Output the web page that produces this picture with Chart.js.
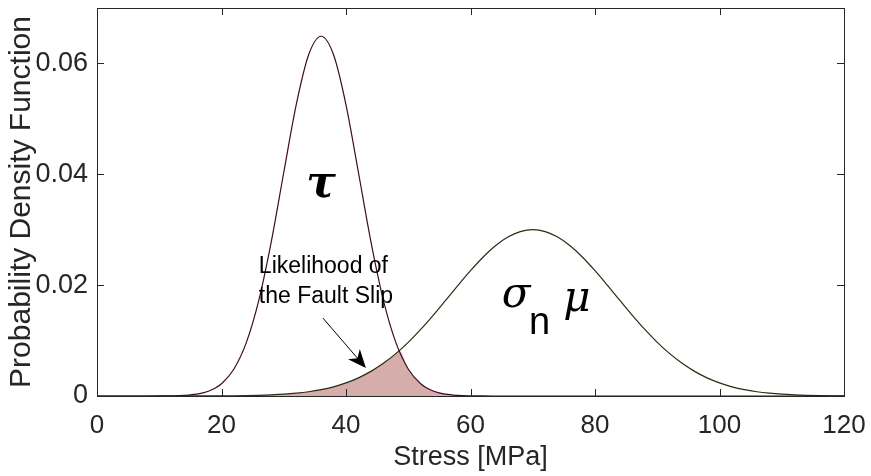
<!DOCTYPE html>
<html>
<head>
<meta charset="utf-8">
<script src="https://cdn.jsdelivr.net/npm/chart.js@4.4.1/dist/chart.umd.min.js"></script>
<style>
  html, body { margin: 0; padding: 0; background: #fff; }
  canvas { display: block; }
</style>
</head>
<body>
<canvas id="chartPdf" width="871" height="476"></canvas>
<script>
// stress axis samples [MPa]
var stress = [0, 2, 4, 6, 8, 10, 12, 14, 16, 18, 20, 22, 24, 26, 28, 30, 32, 34, 36, 38,
  40, 42, 44, 46, 48, 50, 52, 54, 56, 58, 60, 62, 64, 66, 68, 70, 72, 74, 76, 78,
  80, 82, 84, 86, 88, 90, 92, 94, 96, 98, 100, 102, 104, 106, 108, 110, 112, 114, 116, 118, 120];

// shear stress tau
var tauPdf = [0, 0, 0, 0, 0.000002, 0.000009, 0.000032, 0.000108, 0.000328, 0.000896,
  0.0022, 0.00487, 0.00967, 0.0173, 0.02785, 0.04032, 0.05253, 0.06156, 0.0649, 0.06156,
  0.05253, 0.04032, 0.02785, 0.0173, 0.00967, 0.00487, 0.0022, 0.000896, 0.000328, 0.000108,
  0.000032, 0.000009, 0.000002, 0, 0, 0, 0, 0, 0, 0,
  0, 0, 0, 0, 0, 0, 0, 0, 0, 0,
  0, 0, 0, 0, 0, 0, 0, 0, 0, 0, 0];

// frictional strength sigma_n * mu
var strengthPdf = [0, 0, 0, 0, 0, 0.000001, 0.000002, 0.000004, 0.000008, 0.000014,
  0.000026, 0.000045, 0.000076, 0.00013, 0.00021, 0.00033, 0.00051, 0.00077, 0.00114, 0.00166,
  0.00236, 0.00327, 0.00444, 0.00589, 0.00764, 0.00968, 0.01201, 0.01455, 0.01724, 0.01997,
  0.02261, 0.02504, 0.0271, 0.02867, 0.02966, 0.03, 0.02966, 0.02867, 0.0271, 0.02504,
  0.02261, 0.01997, 0.01724, 0.01455, 0.01201, 0.00968, 0.00764, 0.00589, 0.00444, 0.00327,
  0.00236, 0.00166, 0.00114, 0.00077, 0.00051, 0.00033, 0.00021, 0.00013, 0.000076, 0.000045, 0.000026];

// overlap region (likelihood of slip)
var overlapStress = [12, 14, 16, 18, 20, 22, 24, 26, 28, 30, 32, 34, 36, 38, 40, 42, 44, 46, 48,
  48.6, 50, 52, 54, 56, 58, 60, 62, 64];
var overlapPdf = [0.000002, 0.000004, 0.000008, 0.000014, 0.000026, 0.000045, 0.000076, 0.00013,
  0.00021, 0.00033, 0.00051, 0.00077, 0.00114, 0.00166, 0.00236, 0.00327, 0.00444, 0.00589, 0.00764,
  0.0081, 0.00487, 0.0022, 0.000896, 0.000328, 0.000108, 0.000032, 0.000009, 0.000002];

var xTicks = [0, 20, 40, 60, 80, 100, 120];
var yTicks = [0, 0.02, 0.04, 0.06];

function toPoints(xs, ys) {
  return xs.map(function(x, i) { return { x: x, y: ys[i] }; });
}

var FONT = "'Liberation Sans', Arial, sans-serif";
var AXIS_COLOR = '#262626';

// box around the plot with inward ticks, plus the text annotations
var decorations = {
  id: 'decorations',
  afterDatasetsDraw: function(chart) {
    var ctx = chart.ctx;
    var a = chart.chartArea;
    var xs = chart.scales.x, ys = chart.scales.y;
    var px = function(v) { return xs.getPixelForValue(v); };
    var py = function(v) { return ys.getPixelForValue(v); };

    ctx.save();
    ctx.strokeStyle = AXIS_COLOR;
    ctx.lineWidth = 1;
    ctx.strokeRect(Math.round(a.left) + 0.5, Math.round(a.top) + 0.5,
      Math.round(a.right - a.left), Math.round(a.bottom - a.top));
    ctx.beginPath();
    xTicks.forEach(function(t) {
      var x = Math.round(px(t)) + 0.5;
      ctx.moveTo(x, a.bottom); ctx.lineTo(x, a.bottom - 7);
      ctx.moveTo(x, a.top); ctx.lineTo(x, a.top + 7);
    });
    yTicks.forEach(function(t) {
      var y = Math.round(py(t)) + 0.5;
      ctx.moveTo(a.left, y); ctx.lineTo(a.left + 7, y);
      ctx.moveTo(a.right, y); ctx.lineTo(a.right - 7, y);
    });
    ctx.stroke();

    ctx.fillStyle = '#000';
    ctx.textBaseline = 'alphabetic';
    ctx.textAlign = 'left';

    ctx.font = "italic bold 44px 'DejaVu Serif', serif";
    ctx.fillText('\u03C4', px(33.6), py(0.0359));
    ctx.font = "italic 42px 'DejaVu Serif', serif";
    ctx.fillText('\u03C3', px(65.0), py(0.016));
    ctx.fillText('\u03BC', px(74.9), py(0.0153));
    ctx.font = '38px ' + FONT;
    ctx.fillText('n', px(69.4), py(0.0112));

    ctx.font = '23px ' + FONT;
    ctx.fillText('Likelihood of', px(26.0), py(0.02216));
    ctx.fillText('the Fault Slip', px(26.0), py(0.01676));

    // arrow
    var x0 = px(36.3), y0 = py(0.01405), x1 = px(43.2), y1 = py(0.00505);
    var ang = Math.atan2(y1 - y0, x1 - x0);
    ctx.strokeStyle = '#000';
    ctx.lineWidth = 1;
    ctx.beginPath();
    ctx.moveTo(x0, y0);
    ctx.lineTo(x1 - 12 * Math.cos(ang), y1 - 12 * Math.sin(ang));
    ctx.stroke();
    ctx.beginPath();
    ctx.moveTo(x1, y1);
    ctx.lineTo(x1 - 20 * Math.cos(ang - 0.4), y1 - 20 * Math.sin(ang - 0.4));
    ctx.lineTo(x1 - 13 * Math.cos(ang), y1 - 13 * Math.sin(ang));
    ctx.lineTo(x1 - 20 * Math.cos(ang + 0.4), y1 - 20 * Math.sin(ang + 0.4));
    ctx.closePath();
    ctx.fill();
    ctx.restore();
  }
};

document.addEventListener('DOMContentLoaded', function() {
  var ctx = document.getElementById('chartPdf').getContext('2d');
  new Chart(ctx, {
    type: 'line',
    data: {
      datasets: [{
        label: 'tau',
        data: toPoints(stress, tauPdf),
        borderColor: '#3d0c26',
        borderWidth: 1.2,
        pointRadius: 0,
        fill: false,
        cubicInterpolationMode: 'monotone',
        order: 1
      }, {
        label: 'sigma_n mu',
        data: toPoints(stress, strengthPdf),
        borderColor: '#2e2a10',
        borderWidth: 1.2,
        pointRadius: 0,
        fill: false,
        cubicInterpolationMode: 'monotone',
        order: 2
      }, {
        label: 'overlap',
        data: toPoints(overlapStress, overlapPdf),
        borderWidth: 0,
        borderColor: 'rgba(0,0,0,0)',
        backgroundColor: '#d5adab',
        pointRadius: 0,
        fill: 'origin',
        cubicInterpolationMode: 'monotone',
        order: 3
      }]
    },
    options: {
      responsive: false,
      animation: false,
      layout: { padding: { left: 0, right: 27, top: 8, bottom: 0 } },
      plugins: {
        legend: { display: false },
        tooltip: { enabled: false }
      },
      scales: {
        x: {
          type: 'linear',
          min: 0, max: 120,
          grid: { display: false, drawTicks: false },
          border: { display: false },
          ticks: {
            stepSize: 20,
            includeBounds: false,
            padding: 14,
            color: AXIS_COLOR,
            font: { family: FONT, size: 26 },
            maxRotation: 0
          },
          title: {
            display: true,
            text: 'Stress [MPa]',
            color: AXIS_COLOR,
            font: { family: FONT, size: 27 },
            padding: { top: 0, bottom: 2 }
          },
          afterFit: function(scale) {
            scale.height = 80;
            scale.paddingLeft = 0;
            scale.paddingRight = 0;
          }
        },
        y: {
          min: 0, max: 0.07,
          grid: { display: false, drawTicks: false },
          border: { display: false },
          ticks: {
            stepSize: 0.02,
            includeBounds: false,
            padding: 9,
            color: AXIS_COLOR,
            font: { family: FONT, size: 27 },
            callback: function(v) { return v === 0 ? '0' : v.toFixed(2); }
          },
          title: {
            display: true,
            text: 'Probability Density Function',
            color: AXIS_COLOR,
            font: { family: FONT, size: 30 },
            padding: { top: 4, bottom: 0 }
          },
          afterFit: function(scale) {
            scale.width = 97;
            scale.paddingTop = 0;
            scale.paddingBottom = 0;
          }
        }
      }
    },
    plugins: [decorations]
  });
});
</script>
</body>
</html>
